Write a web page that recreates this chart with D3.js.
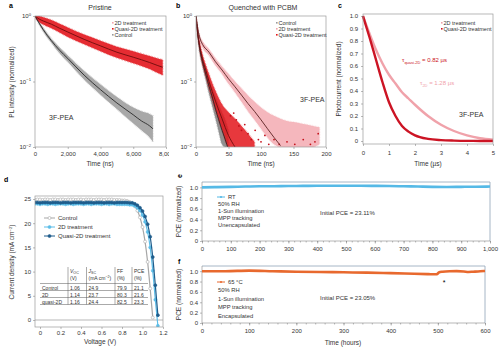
<!DOCTYPE html>
<html><head><meta charset="utf-8">
<script src="https://cdn.jsdelivr.net/npm/d3@7"></script>
<style>body{margin:0;background:#fff} svg{font-family:"Liberation Sans",Arial,sans-serif}</style>
</head><body><svg id="c" width="500" height="350"></svg>
<script>
// ---------- Panel a (Pristine) ----------
const aTimeRed = [0,250,500,1000,1500,2000,3000,4000,5000,6000,7000,7500,7800];
const aRedFit  = [1,0.9,0.84,0.75,0.65,0.57,0.44,0.35,0.28,0.235,0.195,0.175,0.165];
const aRedHi   = [1.06,1.0,0.96,0.87,0.76,0.67,0.52,0.42,0.34,0.29,0.245,0.225,0.215];
const aRedLo   = [0.94,0.81,0.74,0.65,0.56,0.48,0.37,0.29,0.23,0.19,0.155,0.135,0.125];
const aTimeGray = [0,250,500,1000,1500,2000,3000,4000,5000,6000,6500,7000,7200];
const aGrayFit  = [1,0.78,0.62,0.42,0.3,0.225,0.125,0.075,0.047,0.031,0.025,0.021,0.019];
const aGrayHi   = [1.02,0.82,0.66,0.45,0.33,0.25,0.145,0.09,0.058,0.04,0.035,0.032,0.03];
const aGrayLo   = [0.98,0.74,0.58,0.39,0.27,0.2,0.107,0.063,0.038,0.023,0.018,0.014,0.012];
const aTicksX = [0,2000,4000,6000,8000];
const logTicks = [1,0.1,0.01];
const legendA = ["2D treatment","Quasi-2D treatment","Control"];

// ---------- Panel b (Quenched with PCBM) ----------
const bTimeCtrl = [0,2,5,10,15,20,25,30,35,40,45,50];
const bCtrlFit  = [1,0.6,0.35,0.2,0.13,0.085,0.058,0.038,0.026,0.018,0.013,0.009];
const bCtrlHi   = [1,0.66,0.4,0.235,0.16,0.11,0.08,0.058,0.044,0.034,0.026,0.018];
const bCtrlLo   = [0.95,0.54,0.3,0.17,0.105,0.065,0.042,0.027,0.017,0.011,0.01,0.01];
const bTimeQuasi = [0,2,5,10,15,20,25,30,40,50,60,70,80,90];
const bQuasiFit  = [1,0.62,0.38,0.22,0.15,0.1,0.07,0.05,0.027,0.015,0.01,null,null,null];
const bQuasiHi   = [1,0.7,0.44,0.26,0.18,0.13,0.095,0.072,0.045,0.034,0.027,0.021,0.016,0.012];
const bQuasiLo   = [0.95,0.56,0.33,0.18,0.12,0.078,0.052,0.036,0.018,0.01,0.01,0.01,0.01,0.01];
const bTime2D = [0,3,6,10,20,30,40,50,60,70,80,90,100,110,120,130,140,150,160,170,180,190];
const b2DFit  = [1,0.62,0.46,0.37,0.28,0.2,0.15,0.11,0.083,0.062,0.046,0.035,0.026,0.019,0.014,0.0105,null,null,null,null,null,null];
const b2DHi   = [1,0.66,0.5,0.41,0.31,0.225,0.17,0.13,0.1,0.078,0.061,0.049,0.04,0.034,0.03,0.027,0.025,0.024,0.023,0.022,0.021,0.02];
const b2DLo   = [0.95,0.58,0.42,0.33,0.25,0.175,0.13,0.092,0.068,0.049,0.035,0.026,0.019,0.014,0.011,0.01,0.01,0.01,0.01,0.01,0.01,0.011];
const bQuasiDotsT = [53,58,62,66,70,75,80,85,91,96,100,106,112,120,128,140,152,165,176,183,188];
const bQuasiDotsV = [0.03,0.033,0.026,0.021,0.018,0.022,0.016,0.013,0.018,0.013,0.012,0.015,0.011,0.013,0.011,0.012,0.011,0.013,0.011,0.012,0.016];
const bTicksX = [0,50,100,150,200];
const legendB = ["Control","2D treatment","Quasi-2D treatment"];

// ---------- Panel c (photocurrent) ----------
const cTime  = [0,0.25,0.5,0.75,1,1.25,1.5,1.75,2,2.5,3,3.5,4,4.5,5];
const cQuasi = [1,0.83,0.65,0.47,0.31,0.2,0.12,0.075,0.045,0.017,0.007,0.003,0.001,0.0005,0];
const c2D    = [1,0.86,0.73,0.62,0.53,0.46,0.39,0.34,0.29,0.2,0.13,0.08,0.045,0.022,0.01];
const cTicksY = [0,0.1,0.2,0.3,0.4,0.5,0.6,0.7,0.8,0.9,1.0];
const cTicksX = [0,1,2,3,4,5];
const legendC = ["2D treatment","Quasi-2D treatment"];

// ---------- Panel d (J-V) ----------
const voltage = [-0.05,-0.025,0,0.025,0.05,0.075,0.1,0.125,0.15,0.175,0.2,0.225,0.25,0.275,0.3,0.325,0.35,0.375,0.4,0.425,0.45,0.475,0.5,0.525,0.55,0.575,0.6,0.625,0.65,0.675,0.7,0.725,0.75,0.775,0.8,0.825,0.85,0.875,0.9,0.925,0.95,0.975,1.0,1.025,1.05,1.075,1.1,1.125,1.15,1.175];
const jControl = [24.8,24.9,24.9,24.8,24.9,24.9,24.8,24.9,24.9,24.8,24.9,24.9,24.8,24.9,24.9,24.9,24.8,24.9,24.9,24.8,24.9,24.9,24.9,24.8,24.9,24.9,24.9,24.8,24.9,24.9,24.9,24.8,24.8,24.8,24.7,24.7,24.6,24.4,24.0,23.5,22.6,21.2,19.2,16.2,12.0,6.5,0.5,null,null,null];
const j2D = [24.0,24.0,23.9,24.0,24.0,23.9,24.0,24.0,23.9,24.0,24.0,24.0,23.9,24.0,24.0,23.9,24.0,24.0,24.0,23.9,24.0,24.0,23.9,24.0,24.0,24.0,23.9,24.0,24.0,23.9,24.0,24.0,23.9,23.9,23.9,23.9,23.9,23.8,23.8,23.6,23.2,22.6,21.7,20.3,18.2,15.0,10.2,4.2,-1.2,null];
const jQuasi = [24.3,24.3,24.2,24.3,24.3,24.3,24.2,24.3,24.3,24.3,24.2,24.3,24.3,24.3,24.2,24.3,24.3,24.3,24.3,24.2,24.3,24.3,24.3,24.2,24.3,24.3,24.3,24.2,24.3,24.3,24.3,24.2,24.3,24.3,24.3,24.3,24.3,24.2,24.2,24.0,23.7,23.2,22.5,21.4,19.8,17.2,13.0,7.2,1.0,null];
const dTicksX = [0,0.2,0.4,0.6,0.8,1.0,1.2];
const dTicksY = [0,5,10,15,20,25];
const legendD = ["Control","2D treatment","Quasi-2D treatment"];
const tableRowNames = ["Control","2D","quasi-2D"];
const tableVoc = ["1.06","1.14","1.16"];
const tableJsc = ["24.9","23.7","24.4"];
const tableFF  = ["79.9","80.3","82.5"];
const tablePCE = ["21.1","21.6","23.3"];

// ---------- Panel e / f (stability) ----------
const eHours = [0,50,100,150,200,250,300,350,400,450,500,550,600,650,700,750,800,850,900,950,1000];
const eRT    = [1.0,1.005,1.01,1.015,1.02,1.022,1.025,1.027,1.03,1.03,1.03,1.03,1.028,1.025,1.02,1.015,1.01,1.008,1.01,1.012,1.015];
const fHours = [0,50,100,150,200,250,300,350,400,450,480,498,502,510,525,540,555,565,575,590,600];
const f65    = [1.0,1.0,1.01,1.0,0.99,0.985,0.978,0.972,0.962,0.95,0.943,0.94,0.975,0.99,1.0,1.002,0.995,0.985,0.99,0.998,1.005];
const pceTicks = [0,0.2,0.4,0.6,0.8,1.0];
const eTicksX = [0,100,200,300,400,500,600,700,800,900,1000];
const fTicksX = [0,100,200,300,400,500,600];
const eNotes = ["50% RH","1-Sun illumination","MPP tracking","Unencapsulated"];
const fNotes = ["50% RH","1-Sun illumination","MPP tracking","Encapsulated"];

// ---------- drawing ----------
const svg = d3.select('#c');
const FONT = '"Liberation Sans", Arial, sans-serif';
const COL = {red:'#e3161c', redFit:'#6e0c0c', gray:'#9a9a9a', grayFit:'#2a2a2a', pink:'#f3a6ad',
  pinkFit:'#5b2121', cDark:'#cc1424', cPink:'#f0a2aa', dGray:'#a7a7a7', dLight:'#5cbde8', dDark:'#1f5d8c',
  eBlue:'#55b9e6', fOrange:'#e8692e', frame:'#9a9a9a'};

function styleAxis(g, fs){
  g.attr('font-family', FONT).attr('font-size', fs||6);
  g.select('.domain').remove();
  g.selectAll('.tick line').attr('stroke','#777').attr('stroke-width',0.5);
  g.selectAll('.tick text').attr('fill','#333');
}
function frame(g, x0, y0, x1, y1, col){
  g.append('rect').attr('x',x0).attr('y',y0).attr('width',x1-x0).attr('height',y1-y0)
   .attr('fill','none').attr('stroke',col||COL.frame).attr('stroke-width',0.7);
}
function text(g, x, y, s, opt={}){
  const t = g.append('text').attr('x',x).attr('y',y).attr('font-size',opt.fs||6)
   .attr('fill',opt.fill||'#333').attr('text-anchor',opt.anchor||'start').attr('font-family',FONT).text(s);
  if(opt.bold) t.attr('font-weight','bold');
  if(opt.rot) t.attr('transform',`rotate(${opt.rot},${x},${y})`);
  return t;
}
function logLabels(g){
  g.selectAll('.tick text').each(function(d){
    const e = Math.round(Math.log10(d));
    const t = d3.select(this); t.text('10');
    t.append('tspan').attr('dy',-2.5).attr('font-size',4.2).text(e===0?'0':'\u2212'+Math.abs(e));
  });
}
function zip(xs, ys){ return xs.map((x,i)=>({x, y:ys[i]})); }
function band(g, xs, lo, hi, xS, yS, fill, op){
  const data = xs.map((x,i)=>({x, lo:lo[i], hi:hi[i]}));
  g.append('path').datum(data).attr('fill',fill).attr('opacity',op)
   .attr('stroke',fill).attr('stroke-width',1.6).attr('stroke-opacity',0.45).attr('stroke-dasharray','0.8,0.8')
   .attr('d', d3.area().x(d=>xS(d.x)).y0(d=>yS(d.lo)).y1(d=>yS(d.hi)).curve(d3.curveMonotoneX));
}
function line(g, xs, ys, xS, yS, col, w){
  g.append('path').datum(zip(xs,ys)).attr('fill','none').attr('stroke',col).attr('stroke-width',w)
   .attr('d', d3.line().defined(d=>d.y!=null).x(d=>xS(d.x)).y(d=>yS(d.y)).curve(d3.curveMonotoneX));
}

svg.append('defs').call(d=>{
  d.append('clipPath').attr('id','clipA').append('rect').attr('x',0).attr('y',0).attr('width',169).attr('height',175);
  d.append('clipPath').attr('id','clipB').append('rect').attr('x',169).attr('y',0).attr('width',166).attr('height',175);
  d.append('clipPath').attr('id','plotA').append('rect').attr('x',35).attr('y',16).attr('width',131).attr('height',131);
  d.append('clipPath').attr('id','plotB').append('rect').attr('x',196).attr('y',16).attr('width',130).attr('height',131);
  d.append('clipPath').attr('id','plotD').append('rect').attr('x',35).attr('y',196).attr('width',128).attr('height',131);
});

// ===== Panel a =====
{
  const g = svg.append('g').attr('clip-path','url(#clipA)');
  const x = d3.scaleLinear([0,8000],[35,166]);
  const y = d3.scaleLog([0.01,1],[147,16]);
  const p = g.append('g').attr('clip-path','url(#plotA)');
  band(p, aTimeGray, aGrayLo, aGrayHi, x, y, COL.gray, 0.85);
  band(p, aTimeRed, aRedLo, aRedHi, x, y, COL.red, 0.9);
  line(p, aTimeGray, aGrayFit, x, y, COL.grayFit, 0.9);
  line(p, aTimeRed, aRedFit, x, y, COL.redFit, 0.9);
  frame(g, 35, 16, 166, 147);
  g.append('g').attr('transform','translate(0,147)').call(d3.axisBottom(x).tickValues(aTicksX).tickFormat(d3.format(',')).tickSize(2).tickPadding(3)).call(a=>styleAxis(a));
  g.append('g').attr('transform','translate(35,0)').call(d3.axisLeft(y).tickValues(logTicks).tickSize(2).tickPadding(2)).call(a=>{styleAxis(a); logLabels(a);});
  text(g, 100, 166, 'Time (ns)', {anchor:'middle', fs:6.5});
  text(g, 14, 82, 'PL intensity (normalized)', {anchor:'middle', fs:6.5, rot:-90});
  text(g, 100, 10, 'Pristine', {anchor:'middle', fs:7});
  text(g, 9, 8, 'a', {bold:true, fs:7, fill:'#000'});
  text(g, 49, 120, '3F-PEA', {fs:7});
  const lc = [COL.pink, COL.red, COL.gray];
  legendA.forEach((s,i)=>{
    g.append('rect').attr('x',112).attr('y',22+i*6).attr('width',1.6).attr('height',1.6).attr('fill',lc[i]);
    text(g, 114.5, 25+i*6, s, {fs:5.5});
  });
}

// ===== Panel b =====
{
  const g = svg.append('g').attr('clip-path','url(#clipB)');
  const x = d3.scaleLinear([0,200],[196,326]);
  const y = d3.scaleLog([0.01,1],[147,16]);
  const p = g.append('g').attr('clip-path','url(#plotB)');
  band(p, bTime2D, b2DLo, b2DHi, x, y, COL.pink, 0.8);
  band(p, bTimeCtrl, bCtrlLo, bCtrlHi, x, y, '#7d7d7d', 0.85);
  band(p, bTimeQuasi, bQuasiLo, bQuasiHi, x, y, COL.red, 0.85);
  p.selectAll('circle.qd').data(zip(bQuasiDotsT,bQuasiDotsV)).join('circle').attr('cx',d=>x(d.x)).attr('cy',d=>y(d.y)).attr('r',0.9).attr('fill','#c4101a');
  line(p, bTime2D, b2DFit, x, y, COL.pinkFit, 0.9);
  line(p, bTimeCtrl, bCtrlFit, x, y, COL.grayFit, 0.9);
  line(p, bTimeQuasi, bQuasiFit, x, y, COL.redFit, 0.9);
  frame(g, 196, 16, 326, 147);
  g.append('g').attr('transform','translate(0,147)').call(d3.axisBottom(x).tickValues(bTicksX).tickFormat(d3.format('d')).tickSize(2).tickPadding(3)).call(a=>styleAxis(a));
  g.append('g').attr('transform','translate(196,0)').call(d3.axisLeft(y).tickValues(logTicks).tickSize(2).tickPadding(2)).call(a=>{styleAxis(a); logLabels(a);});
  text(g, 261, 166, 'Time (ns)', {anchor:'middle', fs:6.5});
  text(g, 263, 10, 'Quenched with PCBM', {anchor:'middle', fs:7});
  text(g, 176, 8, 'b', {bold:true, fs:7, fill:'#000'});
  text(g, 300, 102, '3F-PEA', {fs:7});
  const lc = [COL.gray, COL.pink, COL.red];
  legendB.forEach((s,i)=>{
    g.append('rect').attr('x',276).attr('y',22+i*6).attr('width',1.6).attr('height',1.6).attr('fill',lc[i]);
    text(g, 278.5, 25+i*6, s, {fs:5.5});
  });
}

// ===== Panel c =====
{
  const g = svg.append('g').attr('id','panelC');
  const x = d3.scaleLinear([0,5],[363,493]);
  const y = d3.scaleLinear([0,1],[141,16]);
  line(g, cTime, c2D, x, y, COL.cPink, 2.4);
  line(g, cTime, cQuasi, x, y, COL.cDark, 2.4);
  frame(g, 363, 14, 493, 144);
  const ax = g.append('g').attr('transform','translate(0,144)').call(d3.axisBottom(x).tickValues(cTicksX).tickFormat(d3.format('d')).tickSize(2).tickPadding(5));
  styleAxis(ax);
  const ay = g.append('g').attr('transform','translate(363,0)');
  ay.call(d3.axisLeft(y).tickValues(cTicksY).tickFormat(d => d === 0 ? '0' : d3.format('.1f')(d)).tickSize(2).tickPadding(3));
  styleAxis(ay);
  ay.selectAll('.tick text').attr('fill','#333').attr('font-size',6).attr('text-anchor','end');
  text(g, 428, 166, 'Time (\u00b5s)', {anchor:'middle', fs:6.5});
  text(g, 341, 79, 'Photocurrent (normalized)', {anchor:'middle', fs:6.5, rot:-90});
  text(g, 338, 8, 'c', {bold:true, fs:7, fill:'#000'});
  text(g, 459, 117, '3F-PEA', {fs:7});
  const t1 = text(g, 402, 62, '\u03c4', {fs:6, fill:COL.cDark});
  t1.append('tspan').attr('dy',1.5).attr('font-size',4).text('quasi-2D');
  t1.append('tspan').attr('dy',-1.5).text(' = 0.82 \u00b5s');
  const t2 = text(g, 420, 85, '\u03c4', {fs:6, fill:COL.cPink});
  t2.append('tspan').attr('dy',1.5).attr('font-size',4).text('2D');
  t2.append('tspan').attr('dy',-1.5).text(' = 1.28 \u00b5s');
  const lc = [COL.cPink, COL.cDark];
  legendC.forEach((s,i)=>{
    g.append('rect').attr('x',441).attr('y',22+i*6).attr('width',1.6).attr('height',1.6).attr('fill',lc[i]);
    text(g, 443.5, 25+i*6, s, {fs:5.5});
  });
}

// ===== Panel d =====
{
  const g = svg.append('g');
  const x = d3.scaleLinear([0,1.2],[40,163]);
  const y = d3.scaleLinear([0,25],[320,199]);
  const p = g.append('g').attr('clip-path','url(#plotD)');
  p.append('line').attr('x1',35).attr('x2',163).attr('y1',y(0)).attr('y2',y(0)).attr('stroke','#888').attr('stroke-width',0.6);
  const series = [[jControl, COL.dGray, true],[j2D, COL.dLight, false],[jQuasi, COL.dDark, false]];
  series.forEach(([js,col,open])=>{
    line(p, voltage, js, x, y, col, 1.2);
    p.selectAll(null).data(zip(voltage,js).filter(d=>d.y!=null)).join('circle')
      .attr('cx',d=>x(d.x)).attr('cy',d=>y(d.y)).attr('r',1.5)
      .attr('fill',open?'#fff':col).attr('stroke',col).attr('stroke-width',0.6);
  });
  frame(g, 35, 196, 163, 327);
  g.append('g').attr('transform','translate(0,327)').call(d3.axisBottom(x).tickValues(dTicksX).tickFormat(d=>d===0?'0':d3.format('.1f')(d)).tickSize(2).tickPadding(2)).call(a=>styleAxis(a));
  g.append('g').attr('transform','translate(35,0)').call(d3.axisLeft(y).tickValues(dTicksY).tickFormat(d3.format('d')).tickSize(2).tickPadding(2)).call(a=>styleAxis(a));
  text(g, 100, 344, 'Voltage (V)', {anchor:'middle', fs:6.5});
  const yt = text(g, 14, 262, 'Current density (mA cm', {anchor:'middle', fs:6.5, rot:-90});
  yt.append('tspan').attr('dy',-2).attr('font-size',4.2).text('\u22122');
  yt.append('tspan').attr('dy',2).text(')');
  text(g, 4, 182, 'd', {bold:true, fs:7, fill:'#000'});
  const lc = [COL.dGray, COL.dLight, COL.dDark];
  legendD.forEach((s,i)=>{
    const yy = 218 + i*9;
    g.append('line').attr('x1',44).attr('x2',55).attr('y1',yy).attr('y2',yy).attr('stroke',lc[i]).attr('stroke-width',1);
    g.append('circle').attr('cx',49.5).attr('cy',yy).attr('r',1.5).attr('fill',i===0?'#fff':lc[i]).attr('stroke',lc[i]).attr('stroke-width',0.6);
    text(g, 58, yy+2, s, {fs:6});
  });
  // table
  const tg = g.append('g').attr('font-family',FONT);
  const colX = [42, 70, 88.5, 117, 134];
  const sepX = [68, 86.5, 115, 132];
  const hLines = [283.5, 290.5, 297.5, 304.5];
  sepX.forEach(sx=>tg.append('line').attr('x1',sx).attr('x2',sx).attr('y1',267).attr('y2',304.5).attr('stroke','#555').attr('stroke-width',0.5));
  hLines.forEach(hy=>tg.append('line').attr('x1',40).attr('x2',148).attr('y1',hy).attr('y2',hy).attr('stroke','#555').attr('stroke-width',0.5));
  const h1 = text(tg, colX[1], 273, 'V', {fs:5}); h1.attr('font-style','italic');
  h1.append('tspan').attr('dy',1.2).attr('font-size',3.6).attr('font-style','normal').text('OC');
  text(tg, colX[1], 280, '(V)', {fs:5});
  const h2 = text(tg, colX[2], 273, 'J', {fs:5}); h2.attr('font-style','italic');
  h2.append('tspan').attr('dy',1.2).attr('font-size',3.6).attr('font-style','normal').text('SC');
  const h2b = text(tg, colX[2], 280, '(mA cm', {fs:5});
  h2b.append('tspan').attr('dy',-1.8).attr('font-size',3.6).text('\u22122');
  h2b.append('tspan').attr('dy',1.8).text(')');
  text(tg, colX[3], 273, 'FF', {fs:5}); text(tg, colX[3], 280, '(%)', {fs:5});
  text(tg, colX[4], 273, 'PCE', {fs:5}); text(tg, colX[4], 280, '(%)', {fs:5});
  tableRowNames.forEach((r,i)=>{
    const yy = 289.5 + i*7;
    [r, tableVoc[i], tableJsc[i], tableFF[i], tablePCE[i]].forEach((v,j)=>text(tg, colX[j], yy, v, {fs:5}));
  });
}

// ===== Panels e, f =====
function stabilityPanel(opts){
  const g = svg.append('g');
  const x = d3.scaleLinear([0,opts.xmax],[202,opts.x1]);
  const y = d3.scaleLinear([0,1.1],[opts.y1,opts.y0]);
  g.append('line').attr('x1',202).attr('x2',opts.x1).attr('y1',opts.y0).attr('y2',opts.y0).attr('stroke','#8fa3b8').attr('stroke-width',0.8);
  g.append('line').attr('x1',opts.x1).attr('x2',opts.x1).attr('y1',opts.y0).attr('y2',opts.y1).attr('stroke','#8fa3b8').attr('stroke-width',0.8);
  g.append('line').attr('x1',202).attr('x2',202).attr('y1',opts.y0).attr('y2',opts.y1).attr('stroke','#888').attr('stroke-width',0.6);
  g.append('line').attr('x1',202).attr('x2',opts.x1).attr('y1',opts.y1).attr('y2',opts.y1).attr('stroke','#888').attr('stroke-width',0.6);
  g.append('g').attr('transform',`translate(0,${opts.y1})`).call(d3.axisBottom(x).ticks(opts.xmax/20).tickFormat('').tickSize(1.5)).call(a=>styleAxis(a));
  g.append('g').attr('transform',`translate(0,${opts.y1})`).call(d3.axisBottom(x).tickValues(opts.ticks).tickFormat(d3.format(',')).tickSize(2.5).tickPadding(3)).call(a=>styleAxis(a));
  g.append('g').attr('transform','translate(202,0)').call(d3.axisLeft(y).tickValues(pceTicks).tickFormat(d=>d===0?'0':d3.format('.1f')(d)).tickSize(2).tickPadding(2)).call(a=>styleAxis(a));
  line(g, opts.hours, opts.vals, x, y, opts.col, 2.6);
  const ly = opts.legY;
  g.append('line').attr('x1',217).attr('x2',225).attr('y1',ly).attr('y2',ly).attr('stroke',opts.col).attr('stroke-width',1);
  g.append('circle').attr('cx',221).attr('cy',ly).attr('r',1).attr('fill',opts.col);
  text(g, 228, ly+2, opts.label, {fs:5.8});
  opts.notes.forEach((s,i)=>text(g, 218, ly+2+(i+1)*opts.gap, s, {fs:5.8}));
  text(g, 320, opts.pceY, opts.pce, {fs:6});
  text(g, 181, (opts.y0+opts.y1)/2, 'PCE (normalized)', {anchor:'middle', fs:6.5, rot:-90});
  return {g, x, y};
}
{
  const r = stabilityPanel({xmax:1000, x1:490, y0:182, y1:241, ticks:eTicksX, hours:eHours, vals:eRT, col:COL.eBlue,
    label:'RT', notes:eNotes, legY:197, gap:7, pce:'Initial PCE = 23.11%', pceY:215});
  text(r.g, 182, 178, 'e', {bold:true, fs:7, fill:'#000', rot:-90});
}
{
  const r = stabilityPanel({xmax:600, x1:485, y0:266, y1:323, ticks:fTicksX, hours:fHours, vals:f65, col:COL.fOrange,
    label:'65 \u00b0C', notes:fNotes, legY:282, gap:8.4, pce:'Initial PCE = 23.05%', pceY:300});
  text(r.g, 178, 264, 'f', {bold:true, fs:7, fill:'#000'});
  text(r.g, 444, 285, '*', {anchor:'middle', fs:7, fill:'#000'});
  text(r.g, 343, 345, 'Time (hours)', {anchor:'middle', fs:6.5});
}
</script></body></html>
